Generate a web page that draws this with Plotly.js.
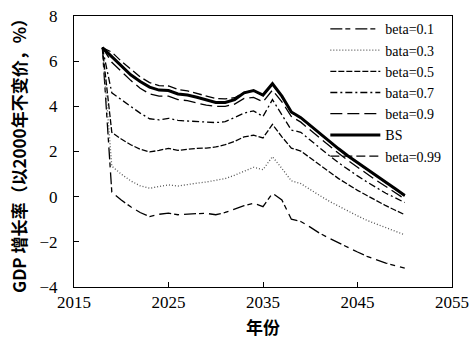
<!DOCTYPE html>
<html>
<head>
<meta charset="utf-8">
<script src="https://cdn.plot.ly/plotly-3.0.1.min.js"></script>
<style>html,body{margin:0;padding:0;background:#fff;}#chart{width:472px;height:349px;}</style>
</head>
<body>
<div id="chart"></div>
<script>
var years = [2018,2019,2020,2021,2022,2023,2024,2025,2026,2027,2028,2029,2030,2031,2032,2033,2034,2035,2036,2037,2038,2039,2040,2041,2042,2043,2044,2045,2046,2047,2048,2049,2050];

var beta01 = [6.6,0.2,-0.15,-0.45,-0.7,-0.88,-0.78,-0.73,-0.8,-0.76,-0.75,-0.74,-0.8,-0.7,-0.55,-0.4,-0.29,-0.44,0.15,-0.15,-1.0,-1.1,-1.35,-1.62,-1.84,-2.05,-2.25,-2.45,-2.64,-2.8,-2.94,-3.06,-3.16];
var bata03 = [6.6,1.35,1.0,0.7,0.48,0.37,0.45,0.52,0.47,0.55,0.6,0.65,0.72,0.8,0.95,1.12,1.3,1.2,1.77,1.25,0.7,0.58,0.3,0.05,-0.2,-0.42,-0.65,-0.85,-1.05,-1.22,-1.38,-1.53,-1.69];
var beta05 = [6.6,2.85,2.55,2.3,2.1,1.98,2.05,2.14,2.05,2.1,2.14,2.15,2.2,2.3,2.45,2.65,2.72,2.6,3.2,2.65,2.15,2.02,1.7,1.4,1.1,0.8,0.53,0.28,0.05,-0.18,-0.4,-0.6,-0.8];
var bata07 = [6.6,4.6,4.3,4.0,3.7,3.45,3.4,3.47,3.38,3.35,3.33,3.3,3.28,3.32,3.5,3.7,3.8,3.55,4.3,3.6,2.95,2.85,2.5,2.15,1.82,1.5,1.2,0.92,0.65,0.4,0.15,-0.05,-0.26];
var beta09 = [6.6,5.95,5.55,5.15,4.8,4.55,4.45,4.45,4.3,4.25,4.15,4.05,4.0,4.0,4.1,4.35,4.4,4.2,4.72,4.2,3.55,3.3,2.95,2.6,2.25,1.92,1.6,1.3,1.0,0.72,0.45,0.18,-0.1];
var bs     = [6.6,6.2,5.8,5.4,5.1,4.85,4.72,4.7,4.55,4.5,4.4,4.3,4.17,4.17,4.3,4.6,4.7,4.5,5.0,4.45,3.75,3.5,3.15,2.8,2.45,2.12,1.8,1.5,1.2,0.92,0.64,0.35,0.05];
var beta099= [6.6,6.4,6.0,5.65,5.3,5.05,4.92,4.9,4.75,4.68,4.57,4.45,4.35,4.33,4.38,4.62,4.7,4.48,4.98,4.42,3.72,3.48,3.13,2.78,2.43,2.1,1.78,1.48,1.18,0.9,0.62,0.33,0.03];

var names = ['beta=0.1','bata=0.3','beta=0.5','bata=0.7','beta=0.9','BS','beta=0.99'];
var series = [beta01, bata03, beta05, bata07, beta09, bs, beta099];
var styles = [
  {color:'#000', width:1.3, dash:'12px,3px,5px,5px'},
  {color:'#555', width:1.3, dash:'1px,2px'},
  {color:'#000', width:1.3, dash:'6px,2px'},
  {color:'#000', width:1.3, dash:'7px,3px,2px,3px'},
  {color:'#000', width:1.3, dash:'12px,5px'},
  {color:'#000', width:3, dash:'solid'},
  {color:'#000', width:1.3, dash:'9px,4px'}
];

var traces = series.map(function(s, i){
  return {x: years, y: s, name: names[i], type: 'scatter', mode: 'lines', line: styles[i]};
});

var serif = 'Liberation Serif';
var tickFont = {family: serif, size: 17, color: '#000'};
var layout = {
  width: 472, height: 349,
  margin: {l: 74, r: 20, t: 16, b: 62},
  paper_bgcolor: '#fff', plot_bgcolor: '#fff',
  showlegend: true,
  legend: {x: 0.985, xanchor: 'right', y: 1.01, yanchor: 'top', bgcolor: 'rgba(0,0,0,0)',
           font: {family: serif, size: 14, color: '#000'},
           tracegroupgap: 0, itemwidth: 50},
  xaxis: {range: [2015, 2055], tickvals: [2015,2025,2035,2045,2055], ticks: 'inside', ticklen: 5, tickcolor: '#000',
          showline: true, linecolor: '#000', linewidth: 1, mirror: true, showgrid: false, zeroline: false,
          tickfont: tickFont,
          title: {text: '年份', font: {family: 'Noto Sans CJK SC', size: 17, color: '#000', weight: 'bold'}, standoff: 10}},
  yaxis: {range: [-4, 8], dtick: 2, ticks: 'inside', ticklen: 5, tickcolor: '#000',
          showline: true, linecolor: '#000', linewidth: 1, mirror: true, showgrid: false, zeroline: false,
          tickfont: tickFont, ticklabelstandoff: 12,
          title: {text: 'GDP 增长率（以2000年不变价，%）', font: {family: 'Noto Sans CJK SC', size: 17, color: '#000', weight: 'bold'}, standoff: 8}}
};
Plotly.newPlot('chart', traces, layout, {staticPlot: true, displayModeBar: false});
</script>
</body>
</html>
